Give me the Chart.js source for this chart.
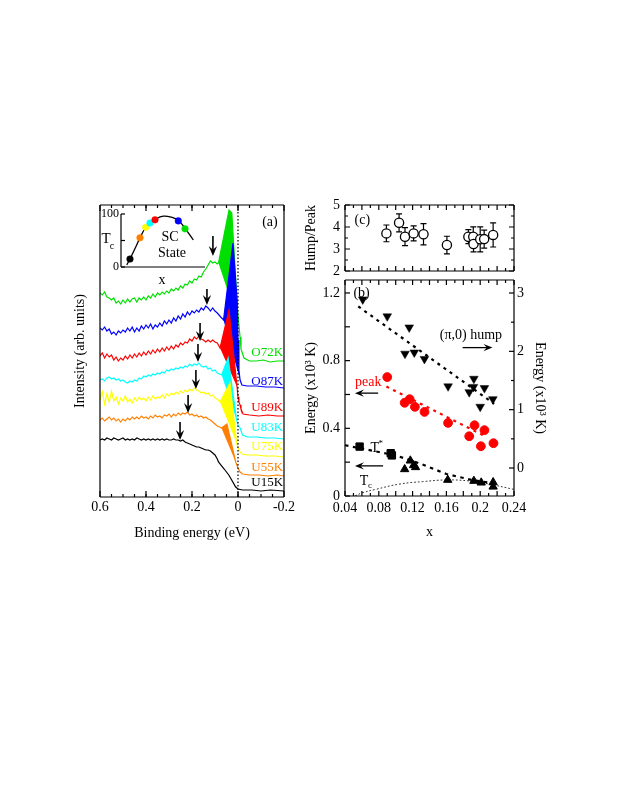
<!DOCTYPE html>
<html>
<head>
<meta charset="utf-8">
<script src="https://cdn.jsdelivr.net/npm/chart.js@4.4.1/dist/chart.umd.min.js"></script>
<style>
  html, body { margin: 0; padding: 0; background: #fff; }
  #page { position: relative; width: 623px; height: 806px; overflow: hidden; background: #fff; }
  #page canvas { position: absolute; left: 0; top: 0; }
</style>
</head>
<body>
<div id="page">
  <canvas id="panelA" width="623" height="806"></canvas>
  <canvas id="inset" width="623" height="806"></canvas>
  <canvas id="panelC" width="623" height="806"></canvas>
  <canvas id="panelB" width="623" height="806"></canvas>
</div>
<script>
// ======================================================
// DATA — panel (a): spectra, binding energy in eV
// ======================================================
const BE_GRID = [0.60,0.59,0.58,0.57,0.56,0.55,0.54,0.53,0.52,0.51,0.50,0.49,0.48,0.47,0.46,0.45,0.44,0.43,0.42,0.41,
  0.40,0.39,0.38,0.37,0.36,0.35,0.34,0.33,0.32,0.31,0.30,0.29,0.28,0.27,0.26,0.25,0.24,0.23,0.22,0.21,
  0.20,0.19,0.18,0.17,0.16,0.15,0.14,0.13,0.12,0.11,0.10];
const BE_TICKS = [0.6, 0.4, 0.2, 0, -0.2];

const O72K_I = [204,202,205,200,199,197,199,194,196,193,197,194,198,195,198,199,195,199,197,200,197,201,199,203,200,204,202,205,203,206,204,208,206,209,207,211,209,213,212,216,214,218,217,221,220,225,228,232,236,234,235];
const O87K_I = [169,167,170,166,168,163,165,162,166,164,167,165,169,166,170,165,169,166,171,168,172,169,173,168,172,170,174,171,176,173,177,174,179,176,181,178,183,180,185,182,186,184,187,185,189,187,191,189,186,189,186];
const U89K_I = [141,144,139,143,140,142,137,140,136,139,137,141,138,142,139,143,140,144,141,145,142,146,143,147,144,148,145,149,146,150,147,151,148,152,150,154,152,155,154,158,156,160,158,161,158,157,155,157,155,157,155];
const U83K_I = [117,118,116,119,120,118,119,117,118,116,117,115,114,116,115,117,116,119,118,121,120,122,121,123,122,124,123,125,124,127,126,128,127,129,128,130,129,131,130,133,131,133,132,134,131,130,131,128,129,126,127];
const U75K_I = [97,105,93,103,95,106,96,100,93,99,96,101,95,98,94,99,96,100,97,99,96,100,97,101,98,100,99,102,99,103,101,104,102,105,103,106,104,107,105,108,106,109,107,106,104,105,103,104,101,102,99];
const U55K_I = [77,79,76,78,80,77,79,76,78,75,78,76,79,77,80,78,80,78,81,79,80,78,81,79,82,80,81,79,82,81,83,80,83,81,84,82,84,83,85,82,83,81,82,80,81,79,80,78,77,75,73];
const U15K_I = [57,58,57,59,58,57,59,58,57,58,59,57,58,57,58,57,59,58,57,58,57,58,57,58,57,58,57,58,57,58,57,57,58,57,57,56,57,55,54,53,52,51,50,50,49,48,47,47,46,44,42];

// region near the Fermi level (peak + tail)
const O72K_NEAR_E = [0.09,0.085,0.039,0.027,0.013,0.002,-0.004,-0.009,-0.013,-0.026,-0.05,-0.08,-0.11,-0.14,-0.17,-0.2];
const O72K_NEAR_I = [233,234,287,284,230,187,172,160,148,139,136,136,137,135,136,136];
const O87K_NEAR_E = [0.09,0.075,0.063,0.022,0.004,0.0,-0.004,-0.009,-0.017,-0.04,-0.08,-0.12,-0.16,-0.2];
const O87K_NEAR_I = [184,180,177,254,197,157,127,117,112,111,111,110,110,109];
const U89K_NEAR_E = [0.09,0.078,0.039,0.004,0.0,-0.004,-0.009,-0.013,-0.022,-0.05,-0.09,-0.13,-0.17,-0.2];
const U89K_NEAR_I = [154,149,187,110,100,95,92,88,83,82,81,82,81,81];
const U83K_NEAR_E = [0.09,0.071,0.043,0.006,0.0,-0.009,-0.02,-0.04,-0.08,-0.12,-0.16,-0.2];
const U83K_NEAR_I = [124,122,139,77,72,69,62,60,60,59,59,58];
const U75K_NEAR_E = [0.09,0.078,0.035,0.006,0.0,-0.009,-0.018,-0.04,-0.08,-0.12,-0.16,-0.2];
const U75K_NEAR_I = [98,95,114,54,49,45,43,42,42,41,41,40];
const U55K_NEAR_E = [0.09,0.08,0.072,0.048,0.010,0.0,-0.009,-0.02,-0.05,-0.09,-0.13,-0.17,-0.2];
const U55K_NEAR_I = [71,70,69,73,35,29,25,23,22,22,21,22,21];
const U15K_NEAR_E = [0.09,0.085,0.06,0.04,0.03,0.01,0.0,-0.02,-0.06,-0.1,-0.14,-0.2];
const U15K_NEAR_I = [38,35,28,22,18,10,8,7,7,6,7,6];

// energy window of the shaded quasiparticle peak [high, low]
const O72K_FILL = [0.085, -0.004];
const O87K_FILL = [0.063, -0.009];
const U89K_FILL = [0.078, 0.004];
const U83K_FILL = [0.071, 0.006];
const U75K_FILL = [0.078, 0.006];
const U55K_FILL = [0.072, 0.010];

// hump arrows: energy, arrow top and tip (intensity)
const HUMP_ARROW_E   = [0.109, 0.135, 0.165, 0.174, 0.183, 0.217, 0.252];
const HUMP_ARROW_TOP = [261, 208, 174, 153, 127, 102, 75];
const HUMP_ARROW_TIP = [241, 192, 156, 135, 108, 84, 57];
const CURVE_LABELS   = ['O72K', 'O87K', 'U89K', 'U83K', 'U75K', 'U55K', 'U15K'];
const CURVE_LABEL_I  = [144, 115, 89, 69, 50, 29, 14];

// inset: Tc dome
const DOME_X  = [0.068, 0.107, 0.17, 0.226, 0.294, 0.345, 0.405, 0.504, 0.6, 0.682, 0.762, 0.861];
const DOME_TC = [4, 15, 36, 55, 75, 83, 90, 96, 94, 88, 73, 51];
const SAMPLE_X  = [0.107, 0.226, 0.294, 0.345, 0.405, 0.682, 0.762];
const SAMPLE_TC = [15, 55, 75, 83, 89, 87, 72];

// ======================================================
// DATA — panel (c): hump/peak ratio
// ======================================================
const HP_X   = [0.089, 0.104, 0.111, 0.1212, 0.1329, 0.1606, 0.186, 0.1918, 0.1921, 0.2, 0.2047, 0.2153];
const HP_R   = [3.71, 4.19, 3.56, 3.71, 3.67, 3.18, 3.56, 3.56, 3.23, 3.44, 3.45, 3.64];
const HP_ERR = [0.38, 0.41, 0.41, 0.34, 0.48, 0.40, 0.32, 0.45, 0.36, 0.57, 0.41, 0.55];
const HP_TICKS = [2, 3, 4, 5];

// ======================================================
// DATA — panel (b): energies vs doping
// ======================================================
const X_TICKS = [0.04, 0.08, 0.12, 0.16, 0.2, 0.24];
const E_LEFT_TICKS = [0, 0.4, 0.8, 1.2];
const E_RIGHT_TICKS = [0, 1, 2, 3];

const HUMP_X = [0.061, 0.090, 0.116, 0.111, 0.122, 0.134, 0.162, 0.187, 0.1925, 0.192, 0.205, 0.200, 0.215];
const HUMP_E = [2.89, 2.60, 2.41, 1.96, 1.98, 1.87, 1.40, 1.30, 1.53, 1.39, 1.37, 1.05, 1.18];
const PEAK_X = [0.090, 0.1106, 0.1165, 0.1227, 0.1341, 0.162, 0.187, 0.1933, 0.205, 0.2008, 0.2157];
const PEAK_E = [0.703, 0.551, 0.572, 0.527, 0.497, 0.432, 0.353, 0.418, 0.389, 0.294, 0.312];
const TSTAR_SQ_X = [0.0573, 0.0941, 0.0955];
const TSTAR_SQ_E = [0.292, 0.253, 0.240];
const TSTAR_TRI_X = [0.1106, 0.1173, 0.1212, 0.1235, 0.1616, 0.1925, 0.2012, 0.2153, 0.2153];
const TSTAR_TRI_E = [0.158, 0.209, 0.182, 0.170, 0.095, 0.089, 0.079, 0.081, 0.055];

const HUMP_FIT_X = [0.0557, 0.2165];
const HUMP_FIT_E = [2.77, 1.10];
const PEAK_FIT_X = [0.089, 0.2067];
const PEAK_FIT_E = [0.647, 0.351];
const TSTAR_FIT_X = [0.04, 0.10, 0.13, 0.16, 0.19, 0.215];
const TSTAR_FIT_E = [0.30, 0.24, 0.19, 0.13, 0.095, 0.075];
const TC_X = [0.052, 0.06, 0.077, 0.105, 0.132, 0.16, 0.187, 0.21, 0.24];
const TC_E = [0, 0.018, 0.04, 0.071, 0.085, 0.095, 0.089, 0.071, 0.039];

// ======================================================
// HELPERS & PLUGINS
// ======================================================
const SERIF = "'Liberation Serif', 'Times New Roman', serif";
Chart.defaults.font.family = SERIF;
Chart.defaults.font.size = 14;
Chart.defaults.color = '#000';

const pts = (xs, ys) => xs.map((x, i) => ({ x, y: ys[i] }));

function drawArrow(ctx, x1, y1, x2, y2, lw = 1.3, headLen = 9, headHalf = 3.6) {
  const ang = Math.atan2(y2 - y1, x2 - x1);
  const L = Math.hypot(x2 - x1, y2 - y1);
  ctx.save();
  ctx.translate(x2, y2);
  ctx.rotate(ang);
  ctx.strokeStyle = '#000';
  ctx.fillStyle = '#000';
  ctx.lineWidth = lw;
  ctx.beginPath(); ctx.moveTo(-L, 0); ctx.lineTo(-headLen * 0.55, 0); ctx.stroke();
  ctx.beginPath();
  ctx.moveTo(0, 0); ctx.lineTo(-headLen, -headHalf); ctx.lineTo(-headLen * 0.62, 0); ctx.lineTo(-headLen, headHalf);
  ctx.closePath(); ctx.fill();
  ctx.restore();
}

function label(ctx, str, x, y, size, color, align) {
  ctx.font = size + 'px ' + SERIF;
  ctx.fillStyle = color || '#000';
  ctx.textAlign = align || 'center';
  ctx.textBaseline = 'middle';
  ctx.fillText(str, x, y);
}

// box + inward tick marks
const inTicks = {
  id: 'inTicks',
  afterDatasetsDraw(chart, args, o) {
    const { ctx, chartArea: a } = chart;
    ctx.save();
    ctx.strokeStyle = '#000';
    ctx.lineWidth = 1.2;
    const edges = o.edges || [];
    ctx.beginPath();
    if (edges.includes('top'))    { ctx.moveTo(a.left, a.top);    ctx.lineTo(a.right, a.top); }
    if (edges.includes('bottom')) { ctx.moveTo(a.left, a.bottom); ctx.lineTo(a.right, a.bottom); }
    if (edges.includes('left'))   { ctx.moveTo(a.left, a.top);    ctx.lineTo(a.left, a.bottom); }
    if (edges.includes('right'))  { ctx.moveTo(a.right, a.top);   ctx.lineTo(a.right, a.bottom); }
    ctx.stroke();
    (o.marks || []).forEach(m => {
      const s = chart.scales[m.scale];
      const n = Math.round((m.to - m.from) / m.step);
      for (let k = 0; k <= n; k++) {
        const p = s.getPixelForValue(m.from + k * m.step);
        ctx.beginPath();
        m.sides.forEach(side => {
          if (side === 'bottom') { ctx.moveTo(p, a.bottom); ctx.lineTo(p, a.bottom - m.len); }
          if (side === 'top')    { ctx.moveTo(p, a.top);    ctx.lineTo(p, a.top + m.len); }
          if (side === 'left')   { ctx.moveTo(a.left, p);   ctx.lineTo(a.left + m.len, p); }
          if (side === 'right')  { ctx.moveTo(a.right, p);  ctx.lineTo(a.right - m.len, p); }
        });
        ctx.stroke();
      }
    });
    ctx.restore();
  }
};

// shaded quasiparticle peak: polygon of the dataset's own points in its energy window
const peakFill = {
  id: 'peakFill',
  beforeDatasetDraw(chart, args) {
    const ds = chart.data.datasets[args.index];
    if (!ds.fillRange) return;
    const [hi, lo] = ds.fillRange;
    const els = args.meta.data.filter((el, i) => ds.data[i].x <= hi + 1e-9 && ds.data[i].x >= lo - 1e-9);
    const ctx = chart.ctx;
    ctx.save();
    ctx.fillStyle = ds.borderColor;
    ctx.beginPath();
    els.forEach((el, i) => (i ? ctx.lineTo(el.x, el.y) : ctx.moveTo(el.x, el.y)));
    ctx.closePath();
    ctx.fill();
    ctx.restore();
  }
};

function baseOptions(padding) {
  return {
    responsive: false,
    animation: false,
    events: [],
    layout: { padding },
    plugins: { legend: { display: false }, tooltip: { enabled: false } },
    elements: { line: { tension: 0 }, point: { radius: 0 } }
  };
}
const noGrid = { display: false, drawTicks: false };

// ======================================================
// PANEL (a)
// ======================================================
const SPECTRA = [
  { name: 'O72K', color: '#00e000', grid: O72K_I, e: O72K_NEAR_E, i: O72K_NEAR_I, fill: O72K_FILL },
  { name: 'O87K', color: '#0000ff', grid: O87K_I, e: O87K_NEAR_E, i: O87K_NEAR_I, fill: O87K_FILL },
  { name: 'U89K', color: '#ff0000', grid: U89K_I, e: U89K_NEAR_E, i: U89K_NEAR_I, fill: U89K_FILL },
  { name: 'U83K', color: '#00ffff', grid: U83K_I, e: U83K_NEAR_E, i: U83K_NEAR_I, fill: U83K_FILL },
  { name: 'U75K', color: '#ffff00', grid: U75K_I, e: U75K_NEAR_E, i: U75K_NEAR_I, fill: U75K_FILL },
  { name: 'U55K', color: '#ff8000', grid: U55K_I, e: U55K_NEAR_E, i: U55K_NEAR_I, fill: U55K_FILL },
  { name: 'U15K', color: '#000000', grid: U15K_I, e: U15K_NEAR_E, i: U15K_NEAR_I, fill: null }
];

const spectraDatasets = SPECTRA.map((s, k) => ({
  label: s.name,
  data: pts(BE_GRID, s.grid).concat(pts(s.e, s.i)),
  showLine: true,
  borderColor: s.color,
  borderWidth: 1.2,
  pointRadius: 0,
  fillRange: s.fill,
  order: SPECTRA.length - 1 - k
}));

const annotateA = {
  id: 'annotateA',
  afterDatasetsDraw(chart) {
    const { ctx, scales: { x, y } } = chart;
    HUMP_ARROW_E.forEach((e, k) => {
      const px = x.getPixelForValue(e);
      drawArrow(ctx, px, y.getPixelForValue(HUMP_ARROW_TOP[k]), px, y.getPixelForValue(HUMP_ARROW_TIP[k]), 1.6, 10, 4.2);
    });
    CURVE_LABELS.forEach((t, k) => {
      label(ctx, t, x.getPixelForValue(-0.196), y.getPixelForValue(CURVE_LABEL_I[k]), 13, SPECTRA[k].color, 'right');
    });
    label(ctx, '(a)', x.getPixelForValue(-0.139), y.getPixelForValue(275), 14);
  }
};

new Chart(document.getElementById('panelA'), {
  type: 'scatter',
  data: {
    datasets: [
      ...spectraDatasets,
      { data: [{ x: 0, y: 0 }, { x: 0, y: 292 }], showLine: true, borderColor: '#000',
        borderWidth: 1.2, borderDash: [1.5, 2], pointRadius: 0, order: -1 }
    ]
  },
  options: Object.assign(baseOptions({ left: 71.6, right: 339, top: 205, bottom: 264.6 }), {
    scales: {
      x: {
        type: 'linear', reverse: true, min: -0.2, max: 0.6,
        grid: noGrid, border: { display: false },
        afterBuildTicks: s => { s.ticks = BE_TICKS.map(v => ({ value: v })); },
        ticks: { padding: 2, font: { size: 14 }, maxRotation: 0, autoSkip: false, callback: v => String(v) },
        title: { display: true, text: 'Binding energy (eV)', font: { size: 14 }, padding: 0 },
        afterFit: s => { s.height = 44.4; }
      },
      y: {
        min: 0, max: 292,
        grid: noGrid, border: { display: false },
        ticks: { display: false },
        title: { display: true, text: 'Intensity (arb. units)', font: { size: 14 }, padding: 0 },
        afterFit: s => { s.width = 28.4; }
      }
    }
  }),
  plugins: [peakFill, inTicks, annotateA]
});
Chart.getChart('panelA').options.plugins.inTicks = {
  edges: ['top', 'bottom', 'left', 'right'],
  marks: [
    { scale: 'x', from: -0.2, to: 0.6, step: 0.2, len: 6, sides: ['bottom', 'top'] },
    { scale: 'x', from: -0.15, to: 0.55, step: 0.05, len: 3, sides: ['bottom', 'top'] }
  ]
};
Chart.getChart('panelA').update();

// ======================================================
// INSET (Tc dome)
// ======================================================
const SAMPLE_COLORS = ['#000000', '#ff8000', '#ffff00', '#00ffff', '#ff0000', '#0000ff', '#00e000'];

const annotateInset = {
  id: 'annotateInset',
  afterDatasetsDraw(chart) {
    const { ctx, scales: { x, y } } = chart;
    const tx = x.getPixelForValue(-0.179), ty = y.getPixelForValue(52.8);
    label(ctx, 'T', tx, ty, 15);
    label(ctx, 'c', tx + 6, ty + 7, 10);
    label(ctx, 'SC', x.getPixelForValue(0.583), y.getPixelForValue(56), 14);
    label(ctx, 'State', x.getPixelForValue(0.607), y.getPixelForValue(26), 14);
    label(ctx, 'x', x.getPixelForValue(0.488), y.getPixelForValue(-26), 14);
  }
};

new Chart(document.getElementById('inset'), {
  type: 'scatter',
  data: {
    datasets: [
      { data: pts(SAMPLE_X, SAMPLE_TC), pointRadius: 3.3, pointBackgroundColor: SAMPLE_COLORS,
        pointBorderColor: SAMPLE_COLORS, pointBorderWidth: 0.5, order: 0 },
      { data: pts(DOME_X, DOME_TC), showLine: true, borderColor: '#000', borderWidth: 1.3,
        pointRadius: 0, tension: 0.4, order: 1 }
    ]
  },
  options: Object.assign(baseOptions({ left: 91, right: 418, top: 214, bottom: 539 }), {
    scales: {
      x: { min: 0, max: 1, grid: noGrid, border: { display: false }, ticks: { display: false },
           afterFit: s => { s.height = 0; } },
      y: { min: 0, max: 100, grid: noGrid, border: { display: false },
           afterBuildTicks: s => { s.ticks = [0, 100].map(v => ({ value: v })); },
           ticks: { padding: 2, font: { size: 12 } },
           afterFit: s => { s.width = 30; } }
    }
  }),
  plugins: [inTicks, annotateInset]
});
Chart.getChart('inset').options.plugins.inTicks = {
  edges: ['left', 'bottom'],
  marks: [{ scale: 'y', from: 0, to: 100, step: 50, len: 4, sides: ['left'] }]
};
Chart.getChart('inset').update();

// ======================================================
// PANEL (c)
// ======================================================
const errorBars = {
  id: 'errorBars',
  beforeDatasetsDraw(chart) {
    const { ctx, scales: { x, y } } = chart;
    ctx.save();
    ctx.strokeStyle = '#000';
    ctx.lineWidth = 1.2;
    HP_X.forEach((v, k) => {
      const px = x.getPixelForValue(v);
      const y1 = y.getPixelForValue(HP_R[k] + HP_ERR[k]);
      const y2 = y.getPixelForValue(HP_R[k] - HP_ERR[k]);
      ctx.beginPath();
      ctx.moveTo(px, y1); ctx.lineTo(px, y2);
      ctx.moveTo(px - 3, y1); ctx.lineTo(px + 3, y1);
      ctx.moveTo(px - 3, y2); ctx.lineTo(px + 3, y2);
      ctx.stroke();
    });
    ctx.restore();
  },
  afterDatasetsDraw(chart) {
    const { ctx, scales: { x, y } } = chart;
    label(ctx, '(c)', x.getPixelForValue(0.0605), y.getPixelForValue(4.32), 14);
  }
};

new Chart(document.getElementById('panelC'), {
  type: 'scatter',
  data: {
    datasets: [
      { data: pts(HP_X, HP_R), pointRadius: 4.6, pointStyle: 'circle', pointBackgroundColor: '#fff',
        pointBorderColor: '#000', pointBorderWidth: 1.3 }
    ]
  },
  options: Object.assign(baseOptions({ left: 302.6, right: 109, top: 205, bottom: 535 }), {
    scales: {
      x: { min: 0.04, max: 0.24, grid: noGrid, border: { display: false }, ticks: { display: false },
           afterFit: s => { s.height = 0; } },
      y: { min: 2, max: 5, grid: noGrid, border: { display: false },
           afterBuildTicks: s => { s.ticks = HP_TICKS.map(v => ({ value: v })); },
           ticks: { padding: 5, font: { size: 14 } },
           title: { display: true, text: 'Hump/Peak', font: { size: 14 }, padding: 0 },
           afterFit: s => { s.width = 42.4; } }
    }
  }),
  plugins: [errorBars, inTicks]
});
Chart.getChart('panelC').options.plugins.inTicks = {
  edges: ['top', 'bottom', 'left', 'right'],
  marks: [
    { scale: 'x', from: 0.04, to: 0.24, step: 0.02, len: 5, sides: ['bottom', 'top'] },
    { scale: 'x', from: 0.05, to: 0.23, step: 0.02, len: 3, sides: ['bottom', 'top'] },
    { scale: 'y', from: 2, to: 5, step: 1, len: 5, sides: ['left', 'right'] },
    { scale: 'y', from: 2.5, to: 4.5, step: 1, len: 3, sides: ['left', 'right'] }
  ]
};
Chart.getChart('panelC').update();

// ======================================================
// PANEL (b)
// ======================================================
const annotateB = {
  id: 'annotateB',
  afterDatasetsDraw(chart) {
    const { ctx, scales: { x, y } } = chart;
    label(ctx, '(b)', x.getPixelForValue(0.0596), y.getPixelForValue(1.2), 14);
    label(ctx, '(\u03c0,0) hump', x.getPixelForValue(0.189), y.getPixelForValue(0.951), 14);
    drawArrow(ctx, x.getPixelForValue(0.1792), y.getPixelForValue(0.877), x.getPixelForValue(0.2145), y.getPixelForValue(0.877));
    label(ctx, 'peak', x.getPixelForValue(0.0675), y.getPixelForValue(0.67), 14, '#ff0000');
    drawArrow(ctx, x.getPixelForValue(0.0792), y.getPixelForValue(0.608), x.getPixelForValue(0.0518), y.getPixelForValue(0.608));
    const tx = x.getPixelForValue(0.0753), ty = y.getPixelForValue(0.282);
    label(ctx, 'T', tx, ty, 14);
    label(ctx, '*', tx + 6, ty - 5, 9);
    drawArrow(ctx, x.getPixelForValue(0.0851), y.getPixelForValue(0.178), x.getPixelForValue(0.0518), y.getPixelForValue(0.178));
    const cx = x.getPixelForValue(0.0624), cy = y.getPixelForValue(0.085);
    label(ctx, 'T', cx, cy, 14);
    label(ctx, 'c', cx + 6, cy + 4, 9);
  }
};

const fitLine = (xs, es, color, axis, width, dash) => ({
  data: pts(xs, es), showLine: true, borderColor: color, borderWidth: width, borderDash: dash,
  pointRadius: 0, yAxisID: axis, order: 5
});

new Chart(document.getElementById('panelB'), {
  type: 'scatter',
  data: {
    datasets: [
      { data: pts(HUMP_X, HUMP_E), yAxisID: 'y2', pointStyle: 'triangle', rotation: 180, pointRadius: 5,
        pointBackgroundColor: '#000', pointBorderColor: '#000', pointBorderWidth: 0.5, order: 0 },
      { data: pts(PEAK_X, PEAK_E), yAxisID: 'y', pointStyle: 'circle', pointRadius: 4.4,
        pointBackgroundColor: '#ff0000', pointBorderColor: '#ff0000', order: 0 },
      { data: pts(TSTAR_SQ_X, TSTAR_SQ_E), yAxisID: 'y', pointStyle: 'rect', pointRadius: 5.2,
        pointBackgroundColor: '#000', pointBorderColor: '#000', order: 0 },
      { data: pts(TSTAR_TRI_X, TSTAR_TRI_E), yAxisID: 'y', pointStyle: 'triangle', pointRadius: 4.8,
        pointBackgroundColor: '#000', pointBorderColor: '#000', order: 0 },
      fitLine(HUMP_FIT_X, HUMP_FIT_E, '#000', 'y2', 2.2, [3, 4.5]),
      fitLine(PEAK_FIT_X, PEAK_FIT_E, '#ff0000', 'y', 2.2, [3, 4.5]),
      fitLine(TSTAR_FIT_X, TSTAR_FIT_E, '#000', 'y', 2.2, [3.5, 4.5]),
      Object.assign(fitLine(TC_X, TC_E, '#333', 'y', 1, [1.8, 2]), { tension: 0.4 })
    ]
  },
  options: Object.assign(baseOptions({ left: 302.6, right: 74.6, top: 280, bottom: 265.6 }), {
    scales: {
      x: { min: 0.04, max: 0.24, grid: noGrid, border: { display: false },
           afterBuildTicks: s => { s.ticks = X_TICKS.map(v => ({ value: v })); },
           ticks: { padding: 4, font: { size: 14 }, maxRotation: 0, autoSkip: false, callback: v => String(+v.toFixed(2)) },
           title: { display: true, text: 'x', font: { size: 14 }, padding: 0 },
           afterFit: s => { s.height = 44.4; } },
      y: { position: 'left', min: 0, max: 1.2766, grid: noGrid, border: { display: false },
           afterBuildTicks: s => { s.ticks = E_LEFT_TICKS.map(v => ({ value: v })); },
           ticks: { padding: 5, font: { size: 14 }, callback: v => String(+v.toFixed(1)) },
           title: { display: true, text: 'Energy (x10\u00b3 K)', font: { size: 14 }, padding: 0 },
           afterFit: s => { s.width = 42.4; } },
      y2: { position: 'right', min: -0.48, max: 3.223, grid: noGrid, border: { display: false },
            afterBuildTicks: s => { s.ticks = E_RIGHT_TICKS.map(v => ({ value: v })); },
            ticks: { padding: 3, font: { size: 14 }, callback: v => String(v) },
            title: { display: true, text: 'Energy (x10\u00b3 K)', font: { size: 14 }, padding: 0 },
            afterFit: s => { s.width = 34.4; } }
    }
  }),
  plugins: [inTicks, annotateB]
});
Chart.getChart('panelB').options.plugins.inTicks = {
  edges: ['top', 'bottom', 'left', 'right'],
  marks: [
    { scale: 'x', from: 0.04, to: 0.24, step: 0.02, len: 5, sides: ['bottom', 'top'] },
    { scale: 'x', from: 0.05, to: 0.23, step: 0.02, len: 3, sides: ['bottom', 'top'] },
    { scale: 'y', from: 0, to: 1.2, step: 0.2, len: 5, sides: ['left'] },
    { scale: 'y2', from: 0, to: 3, step: 1, len: 5, sides: ['right'] },
    { scale: 'y2', from: 0.5, to: 2.5, step: 1, len: 3, sides: ['right'] }
  ]
};
Chart.getChart('panelB').update();
</script>
</body>
</html>
